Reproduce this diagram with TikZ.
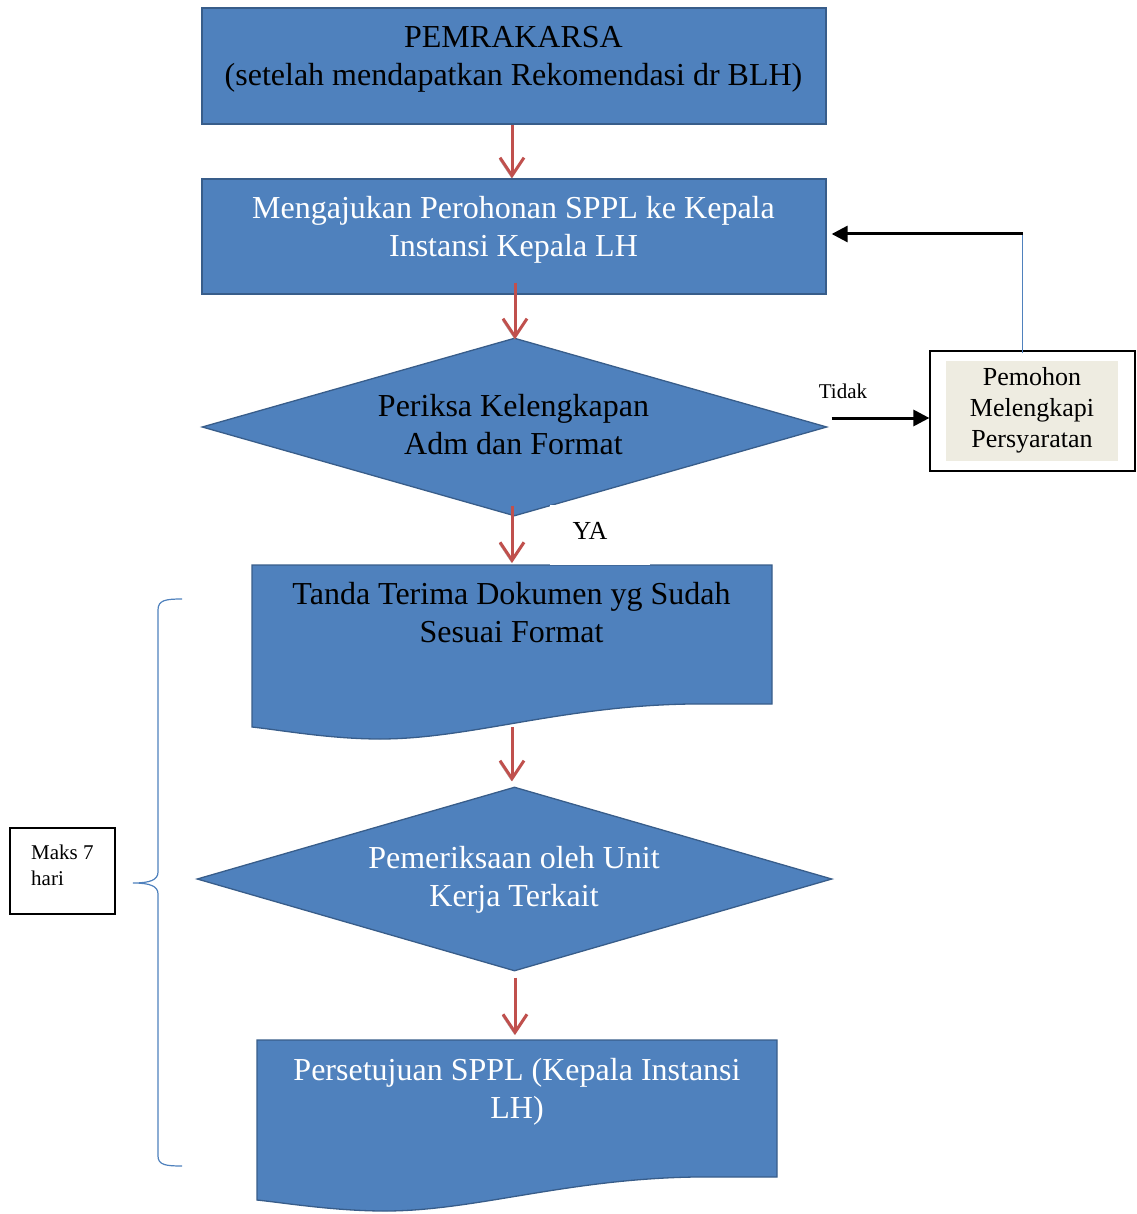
\documentclass[tikz,border=0pt]{standalone}
\usepackage{fontspec}
\setmainfont{Liberation Serif}
\usetikzlibrary{arrows.meta,shapes.geometric}
\definecolor{boxblue}{HTML}{4F81BD}
\definecolor{boxedge}{HTML}{385D8A}
\definecolor{arrred}{HTML}{C0504D}
\definecolor{beige}{HTML}{EEECE1}
\definecolor{bracecol}{HTML}{4F81BD}
\newcommand\bigtxt{\fontsize{32}{38}\selectfont}
\newcommand\midtxt{\fontsize{26}{31}\selectfont}
\newcommand\smalltxt{\fontsize{21}{26}\selectfont}
\tikzset{
  flowbox/.style={draw=boxedge, line width=1.3pt, fill=boxblue, inner sep=0pt},
  flowtext/.style={inner sep=0pt, align=center, font=\bigtxt},
  redarrow/.style={draw=arrred, line width=3pt,
    -{Straight Barb[length=18pt,width=24pt,line width=3pt]},
    preaction={draw=gray!70, transform canvas={shift={(-0.6pt,-2pt)}}}},
  blackarrow/.style={draw=black, line width=3pt, -{Triangle[length=16pt,width=16pt]}},
}
\begin{document}
\begin{tikzpicture}[x=1pt,y=-1pt]
\useasboundingbox (0,0) rectangle (1136,1214);
% arrow columns
\coordinate (cA) at (512,0);
\coordinate (cB) at (515,0);
% box 1
\node[flowbox, minimum width=624pt, minimum height=116pt] (b1) at (514,66) {};
\node[flowtext, text=black] (t1) at (513.5,59) {PEMRAKARSA\\(setelah mendapatkan Rekomendasi dr BLH)};
% box 2
\node[flowbox, minimum width=624pt, minimum height=115pt] (b2) at (514,236.5) {};
\node[flowtext, text=white] (t2) at (513.5,230) {Mengajukan Perohonan SPPL ke Kepala\\Instansi Kepala LH};
% diamond 1
\node[flowbox, diamond, minimum width=625pt, minimum height=178pt] (d1) at (514.5,427) {};
\node[flowtext, text=black] (t3) at (513.5,425) {Periksa Kelengkapan\\Adm dan Format};
% document 1
\draw[flowbox] (252,565) -- (772,565) -- (772,704) -- (690,704)
  .. controls (560,706) and (470,739) .. (380,739)
  .. controls (330,739) and (280,730) .. (252,727) -- cycle;
\coordinate (doc1top) at (512,565);
\coordinate (doc1bot) at (512,727);
\node[flowtext, text=black] (t4) at (511.5,613) {Tanda Terima Dokumen yg Sudah\\Sesuai Format};
% YA label on white patch
\node[fill=white, minimum width=100pt, minimum height=60pt, inner sep=0pt] (yabox) at (600,535) {};
\node[flowtext, font=\midtxt] (ya) at (590,531) {YA};
% diamond 2
\node[flowbox, diamond, minimum width=635pt, minimum height=184pt] (d2) at (514.5,879) {};
\node[flowtext, text=white] (t5) at (514,879.5) {Pemeriksaan oleh Unit\\Kerja Terkait};
% document 2
\draw[flowbox] (257,1040) -- (777,1040) -- (777,1177) -- (695,1177)
  .. controls (565,1179) and (475,1211) .. (385,1211)
  .. controls (335,1211) and (285,1203) .. (257,1200) -- cycle;
\coordinate (doc2top) at (515,1040);
\node[flowtext, text=white] (t6) at (517,1092) {Persetujuan SPPL (Kepala Instansi\\LH)};
% right box
\node[draw=black, line width=1.2pt, fill=white, minimum width=205pt, minimum height=120pt, inner sep=0pt] (rb) at (1032.5,411) {};
\node[fill=beige, minimum width=172pt, minimum height=100pt, inner sep=0pt] (rbin) at (1032,411) {};
\node[flowtext, font=\midtxt] (t7) at (1032,410) {Pemohon\\Melengkapi\\Persyaratan};
% Maks box
\node[draw=black, line width=1.2pt, minimum width=105pt, minimum height=86pt, inner sep=0pt] (mb) at (62.5,871) {};
\node[inner sep=0pt, align=left, anchor=west, font=\smalltxt] (t8) at (31,865) {Maks 7\\hari};
% brace
\draw[bracecol, line width=1.2pt] (182,599) .. controls (166,599) and (158,600) .. (158,610)
  -- (158,872) .. controls (158,880) and (150,883) .. (133,883)
  .. controls (150,883) and (158,886) .. (158,894)
  -- (158,1156) .. controls (158,1165) and (166,1166) .. (182,1166);
% Tidak
\node[inner sep=0pt, font=\smalltxt] (tidak) at (843,391) {Tidak};
% red arrows
\draw[redarrow] (b1.south -| cA) -- (b2.north -| cA);
\draw[redarrow] ([yshift=12pt]b2.south -| cB) -- ([yshift=-2pt]d1.north -| cB);
\draw[redarrow] ([yshift=11pt]d1.south -| cA) -- ([yshift=2pt]doc1top);
\draw[redarrow] (doc1bot) -- ([yshift=5pt]d2.north -| cA);
\draw[redarrow] ([yshift=-6pt]d2.south -| cB) -- ([yshift=5pt]doc2top);
% black arrows
\coordinate (tline) at (0,418);
\draw[blackarrow] ([xshift=4pt]d1.east |- tline) -- (rb.west |- tline);
\coordinate (corner) at (1022.5,234);
\draw[bracecol, line width=1.2pt] ([yshift=-3pt]rb.north -| corner) -- (corner);
\draw[blackarrow] (corner) -- ([xshift=5pt]b2.east |- corner);
\end{tikzpicture}
\end{document}
